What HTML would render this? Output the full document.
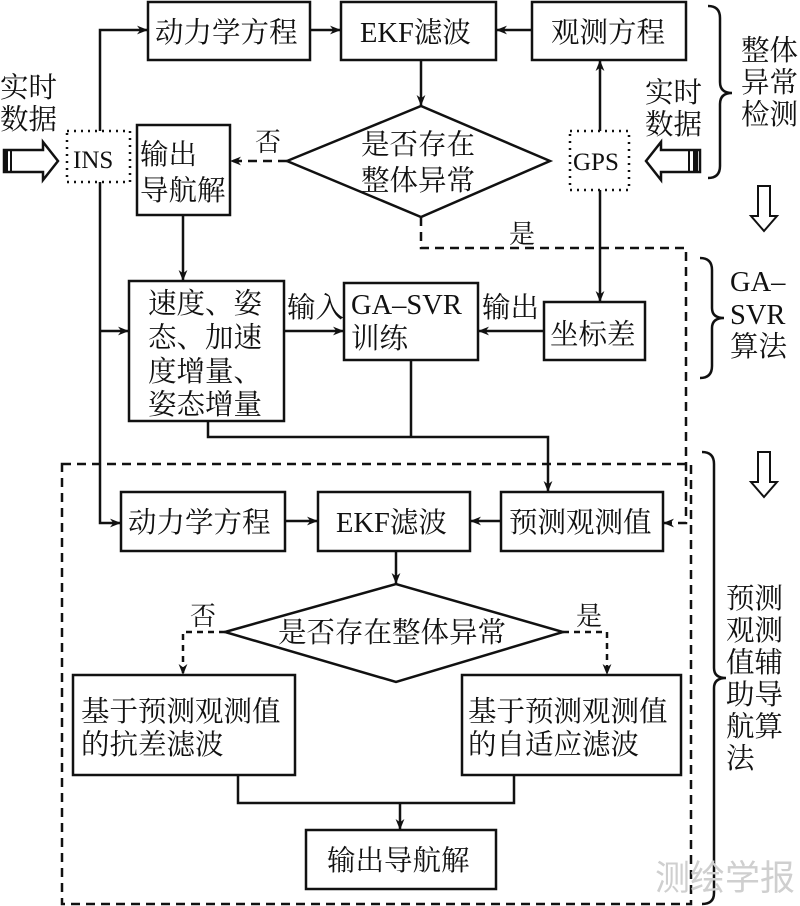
<!DOCTYPE html>
<html><head><meta charset="utf-8"><style>
html,body{margin:0;padding:0;background:#fff;}
svg{display:block;}
text{font-family:"Liberation Serif","Noto Serif CJK SC",serif;fill:#111;}
</style></head><body>
<svg width="800" height="906" viewBox="0 0 800 906" xmlns="http://www.w3.org/2000/svg">
<defs>
<marker id="a" viewBox="0 0 10 10" refX="10" refY="5" markerWidth="11" markerHeight="11" markerUnits="userSpaceOnUse" orient="auto"><path d="M0,1 L10,5 L0,9 L3,5 Z" fill="#111"/></marker>
</defs>
<g fill="none" stroke="#111" stroke-width="2.5">
<rect x="148" y="2" width="162" height="58"/>
<rect x="341" y="2" width="155" height="58"/>
<rect x="532" y="2" width="154" height="58"/>
<rect x="137" y="125" width="93" height="90"/>
<rect x="129" y="281" width="155" height="140"/>
<rect x="344" y="283" width="134" height="77"/>
<rect x="544" y="302" width="101" height="58"/>
<polygon points="287,161 421,106 550,161 421,217"/>
<rect x="121" y="492" width="164" height="59"/>
<rect x="318" y="492" width="152" height="59"/>
<rect x="501" y="492" width="162" height="59"/>
<polygon points="225,632 396,584 563,632 396,682"/>
<rect x="73" y="675" width="222" height="100"/>
<rect x="462" y="675" width="219" height="100"/>
<rect x="306" y="830" width="190" height="59"/>
<rect x="67" y="131" width="63" height="51" stroke-dasharray="2,5" stroke-width="2.5"/>
<rect x="570" y="131" width="59" height="59" stroke-dasharray="2,5" stroke-width="2.5"/>
<rect x="62" y="464" width="629" height="440" stroke-dasharray="9,6"/>
<path d="M421,217 V248 H686 V523 H663" stroke-dasharray="9,6" marker-end="url(#a)"/>
<path d="M287,161 H230" stroke-dasharray="9,6" marker-end="url(#a)"/>
<path d="M225,632 H183 V675" stroke-dasharray="6,5" marker-end="url(#a)"/>
<path d="M563,632 H607 V675" stroke-dasharray="6,5" marker-end="url(#a)"/>
<path d="M100,131 V30 H148" marker-end="url(#a)"/>
<path d="M310,30 H341" marker-end="url(#a)"/>
<path d="M532,30 H496" marker-end="url(#a)"/>
<path d="M421,60 V106" marker-end="url(#a)"/>
<path d="M600,131 V60" marker-end="url(#a)"/>
<path d="M600,190 V302" marker-end="url(#a)"/>
<path d="M100,182 V523 H121" marker-end="url(#a)"/>
<path d="M100,331 H129" marker-end="url(#a)"/>
<path d="M183,215 V281" marker-end="url(#a)"/>
<path d="M284,331 H344" marker-end="url(#a)"/>
<path d="M544,331 H478" marker-end="url(#a)"/>
<path d="M208,421 V437 H548 V492" marker-end="url(#a)"/>
<path d="M411,360 V437"/>
<path d="M285,521 H318" marker-end="url(#a)"/>
<path d="M501,521 H470" marker-end="url(#a)"/>
<path d="M396,551 V584" marker-end="url(#a)"/>
<path d="M238,775 V803 H514 V775"/>
<path d="M400,803 V830" marker-end="url(#a)"/>
<path d="M708,6 Q720,6 720,18 V82 Q720,93 732,93 Q720,93 720,104 V166 Q720,178 708,178"/>
<path d="M700,258 Q712,258 712,270 V308 Q712,318 724,318 Q712,318 712,328 V366 Q712,378 700,378"/>
<path d="M702,452 Q714,452 714,464 V668 Q714,678 726,678 Q714,678 714,688 V893 Q714,904 702,904"/>
<path d="M758,186 V216 H751 L764,231 L777,216 H770 V186 Z" stroke-width="2"/>
<path d="M758,452 V482 H751 L764,497 L777,482 H770 V452 Z" stroke-width="2"/>
<path d="M4,150 H43 V142 L58,161 L43,180 V172 H4 Z" stroke-width="2.5"/>
<path d="M700,150 H661 V142 L646,161 L661,180 V172 H700 Z" stroke-width="2.5"/>
</g>
<rect x="3" y="149" width="5" height="24" fill="#111"/>
<rect x="10" y="149" width="2" height="24" fill="#111"/>
<rect x="693" y="149" width="5" height="24" fill="#111"/>
<rect x="688" y="149" width="2" height="24" fill="#111"/>
<g font-size="28.5">
<text x="155" y="42">动力学方程</text>
<text x="360" y="42">EKF滤波</text>
<text x="551" y="42">观测方程</text>
<text x="361" y="154">是否存在</text>
<text x="361" y="190">整体异常</text>
<text x="140" y="164">输出</text>
<text x="140" y="200">导航解</text>
<text x="73" y="168" font-size="25">INS</text>
<text x="573" y="170" font-size="25">GPS</text>
<text x="148" y="313">速度、姿</text>
<text x="148" y="347">态、加速</text>
<text x="148" y="381">度增量、</text>
<text x="148" y="414">姿态增量</text>
<text x="351" y="314">GA–SVR</text>
<text x="351" y="348">训练</text>
<text x="550" y="344">坐标差</text>
<text x="287" y="317">输入</text>
<text x="482" y="317">输出</text>
<text x="255" y="151" font-size="26">否</text>
<text x="509" y="243" font-size="26">是</text>
<text x="0" y="97">实时</text>
<text x="0" y="129">数据</text>
<text x="645" y="102">实时</text>
<text x="645" y="134">数据</text>
<text x="741" y="60">整体</text>
<text x="741" y="92">异常</text>
<text x="741" y="124">检测</text>
<text x="730" y="291">GA–</text>
<text x="730" y="324">SVR</text>
<text x="730" y="356">算法</text>
<text x="726" y="608">预测</text>
<text x="726" y="640">观测</text>
<text x="726" y="672">值辅</text>
<text x="726" y="704">助导</text>
<text x="726" y="736">航算</text>
<text x="726" y="768">法</text>
<text x="128" y="532">动力学方程</text>
<text x="336" y="532">EKF滤波</text>
<text x="509" y="532">预测观测值</text>
<text x="278" y="642">是否存在整体异常</text>
<text x="190" y="625" font-size="26">否</text>
<text x="576" y="625" font-size="26">是</text>
<text x="81" y="721">基于预测观测值</text>
<text x="81" y="754">的抗差滤波</text>
<text x="468" y="721">基于预测观测值</text>
<text x="468" y="754">的自适应滤波</text>
<text x="327" y="870">输出导航解</text>
</g>
<text x="655" y="890" font-size="35" style="fill:#cfcfcf;font-family:'Liberation Sans','Noto Sans CJK SC',sans-serif">测绘学报</text>
</svg>
</body></html>
